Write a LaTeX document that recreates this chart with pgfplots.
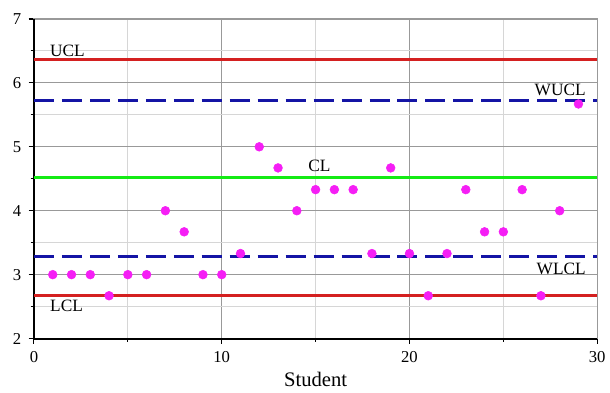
\documentclass[border=0pt]{standalone}
\usepackage{pgfplots}
\pgfplotsset{compat=1.18}
\usepackage{fontspec}
\setmainfont{Liberation Serif}
\definecolor{cred}{RGB}{212,32,32}
\definecolor{cblue}{RGB}{20,20,165}
\definecolor{cgreen}{RGB}{20,235,20}
\definecolor{cmag}{RGB}{245,30,245}
\begin{document}
\begin{tikzpicture}
\begin{axis}[
  scale only axis,
  width=423pt, height=240pt,
  xmin=0, xmax=30, ymin=2, ymax=7,
  xtick={0,10,20,30}, ytick={2,3,4,5,6,7},
  minor x tick num=1, minor y tick num=1,
  grid=both,
  major grid style={draw=black!40, line width=0.7pt},
  minor grid style={draw=black!16, line width=0.7pt},
  axis line style={draw=black!40, line width=0.8pt},
  tick align=outside,
  xtick pos=bottom, ytick pos=left,
  major tick length=4pt, minor tick length=2.5pt,
  tick style={black, line width=0.8pt},
  /pgf/number format/assume math mode=true,
  tick label style={font=\fontsize{12.5}{14}\selectfont},
  xticklabel style={yshift=-2pt},
  yticklabel style={xshift=-2pt},
  xlabel={Student},
  every axis x label/.style={at={(axis description cs:0.5,0)}, anchor=base, yshift=-36pt, font=\fontsize{15.5}{17}\selectfont},
  clip=false,
]
\draw[black, line width=1.6pt] (rel axis cs:0,1) -- (rel axis cs:0,0) -- (rel axis cs:1,0);
\addplot[cred, line width=2.4pt] coordinates {(0,6.36) (30,6.36)};
\addplot[cblue, line width=2.4pt, dash pattern=on 15pt off 6pt] coordinates {(0,5.73) (30,5.73)};
\addplot[cgreen, line width=2.4pt] coordinates {(0,4.52) (30,4.52)};
\addplot[cblue, line width=2.4pt, dash pattern=on 15pt off 6pt] coordinates {(0,3.29) (30,3.29)};
\addplot[cred, line width=2.4pt] coordinates {(0,2.67) (30,2.67)};
\addplot[only marks, mark=*, mark size=3.3pt, mark options={draw=cmag, fill=cmag}] coordinates {
(1,3) (2,3) (3,3) (4,2.67) (5,3) (6,3) (7,4) (8,3.67) (9,3) (10,3)
(11,3.33) (12,5) (13,4.67) (14,4) (15,4.33) (16,4.33) (17,4.33) (18,3.33) (19,4.67) (20,3.33)
(21,2.67) (22,3.33) (23,4.33) (24,3.67) (25,3.67) (26,4.33) (27,2.67) (28,4) (29,5.67)};
\node[anchor=base west, inner sep=0pt, font=\fontsize{13}{15}\selectfont] at (axis cs:0.85,6.42) {UCL};
\node[anchor=base east, inner sep=0pt, font=\fontsize{13}{15}\selectfont] at (axis cs:29.4,5.8) {WUCL};
\node[anchor=base west, inner sep=0pt, font=\fontsize{13}{15}\selectfont] at (axis cs:14.6,4.61) {CL};
\node[anchor=base east, inner sep=0pt, font=\fontsize{13}{15}\selectfont] at (axis cs:29.4,3.0) {WLCL};
\node[anchor=base west, inner sep=0pt, font=\fontsize{13}{15}\selectfont] at (axis cs:0.85,2.43) {LCL};
\end{axis}
\path ([xshift=-25.5pt,yshift=-40.5pt]current axis.south west) rectangle ([xshift=9pt,yshift=14.25pt]current axis.north east);
\end{tikzpicture}
\end{document}
